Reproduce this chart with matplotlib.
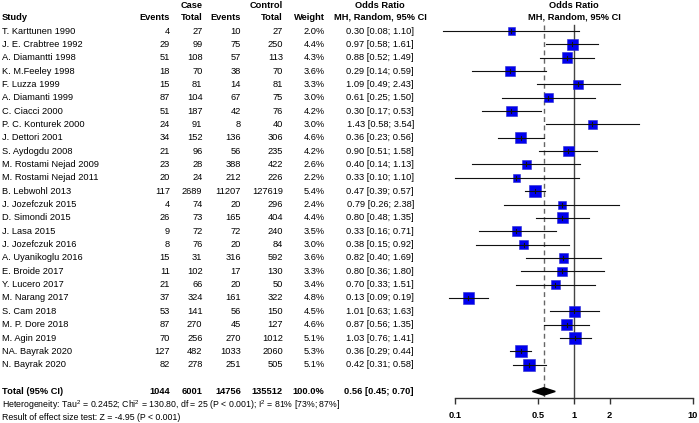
import matplotlib
matplotlib.use("Agg")
import matplotlib.pyplot as plt
import numpy as np

studies = ["T. Karttunen 1990", "J. E. Crabtree 1992", "A. Diamantti 1998", "K. M.Feeley 1998",
           "F. Luzza 1999", "A. Diamanti 1999", "C. Ciacci 2000", "P. C. Konturek 2000",
           "J. Dettori 2001", "S. Aydogdu 2008", "M. Rostami Nejad 2009", "M. Rostami Nejad 2011",
           "B. Lebwohl 2013", "J. Jozefczuk 2015", "D. Simondi 2015", "J. Lasa 2015",
           "J. Jozefczuk 2016", "A. Uyanikoglu 2016", "E. Broide 2017", "Y. Lucero 2017",
           "M. Narang 2017", "S. Cam 2018", "M. P. Dore 2018", "M. Agin 2019",
           "NA. Bayrak 2020", "N. Bayrak 2020"]
case_events = [4, 29, 51, 18, 15, 87, 51, 24, 34, 21, 23, 20, 117, 4, 26, 9, 8, 15, 11, 21, 37, 53, 87, 70, 127, 82]
case_total = [27, 99, 108, 70, 81, 104, 187, 91, 152, 96, 28, 24, 2689, 74, 73, 72, 76, 31, 102, 66, 324, 141, 270, 256, 482, 278]
ctrl_events = [10, 75, 57, 38, 14, 67, 42, 8, 136, 56, 388, 212, 11207, 20, 165, 72, 20, 316, 17, 20, 161, 56, 45, 270, 1033, 251]
ctrl_total = [27, 250, 113, 70, 81, 75, 76, 40, 306, 235, 422, 226, 127619, 296, 404, 240, 84, 592, 130, 50, 322, 150, 127, 1012, 2060, 505]
weight = [2.0, 4.4, 4.3, 3.6, 3.3, 3.0, 4.2, 3.0, 4.6, 4.2, 2.6, 2.2, 5.4, 2.4, 4.4, 3.5, 3.0, 3.6, 3.3, 3.4, 4.8, 4.5, 4.6, 5.1, 5.3, 5.1]
odds_ratio = [0.30, 0.97, 0.88, 0.29, 1.09, 0.61, 0.30, 1.43, 0.36, 0.90, 0.40, 0.33, 0.47, 0.79, 0.80, 0.33, 0.38, 0.82, 0.80, 0.70, 0.13, 1.01, 0.87, 1.03, 0.36, 0.42]
ci_low = [0.08, 0.58, 0.52, 0.14, 0.49, 0.25, 0.17, 0.58, 0.23, 0.51, 0.14, 0.10, 0.39, 0.26, 0.48, 0.16, 0.15, 0.40, 0.36, 0.33, 0.09, 0.63, 0.56, 0.76, 0.29, 0.31]
ci_high = [1.10, 1.61, 1.49, 0.59, 2.43, 1.50, 0.53, 3.54, 0.56, 1.58, 1.13, 1.10, 0.57, 2.38, 1.35, 0.71, 0.92, 1.69, 1.80, 1.51, 0.19, 1.63, 1.35, 1.41, 0.44, 0.58]

total_case_events = 1044
total_case_total = 6001
total_ctrl_events = 14756
total_ctrl_total = 135512
total_weight = 100.0
pooled_or = 0.56
pooled_low = 0.45
pooled_high = 0.70

heterogeneity = r"Heterogeneity: Tau$^2$ = 0.2452; Chi$^2$ = 130.80, df = 25 (P < 0.001); I$^2$ = 81% [73%; 87%]"
effect_test = "Result of effect size test: Z = -4.95 (P < 0.001)"
xticks = [0.1, 0.5, 1, 2, 10]
xtick_labels = ["0.1", "0.5", "1", "2", "10"]

plt.rcParams['font.family'] = ['Liberation Sans', 'DejaVu Sans']
plt.rcParams['mathtext.fontset'] = 'custom'
plt.rcParams['mathtext.rm'] = 'Liberation Sans'
FS = 6.7
FS_SMALL = 6.3
W, H = 699, 423
fig = plt.figure(figsize=(W / 100, H / 100), dpi=100)
fig.patch.set_facecolor("white")

# table axes (pixel coordinates, y from top)
tab = fig.add_axes([0, 0, 1, 1])
tab.set_xlim(0, W)
tab.set_ylim(H, 0)
tab.axis("off")

y0, dy = 31.0, 13.35
rows_y = [y0 + i * dy for i in range(len(studies))]
total_y = rows_y[-1] + 2 * dy

col_study = 2
col_ce, col_ct, col_oe, col_ot, col_w, col_or = 170, 202.5, 241, 283, 324.5, 414
col_or_center = 380
col_plot_center = 574

hy1, hy2 = 5, 17
bold = dict(fontweight="bold", fontsize=FS, va="center")
tab.text(col_ct, hy1, "Case", ha="right", **bold)
tab.text(col_ot, hy1, "Control", ha="right", **bold)
tab.text(col_or_center, hy1, "Odds Ratio", ha="center", **bold)
tab.text(col_study, hy2, "Study", ha="left", **bold)
tab.text(col_ce, hy2, "Events", ha="right", **bold)
tab.text(col_ct, hy2, "Total", ha="right", **bold)
tab.text(col_oe, hy2, "Events", ha="right", **bold)
tab.text(col_ot, hy2, "Total", ha="right", **bold)
tab.text(col_w, hy2, "Weight", ha="right", **bold)
tab.text(col_or_center, hy2, "MH, Random, 95% CI", ha="center", **bold)
tab.text(col_plot_center, hy1, "Odds Ratio", ha="center", **bold)
tab.text(col_plot_center, hy2, "MH, Random, 95% CI", ha="center", **bold)

norm = dict(fontsize=FS, va="center")
for i, y in enumerate(rows_y):
    tab.text(col_study, y, studies[i], ha="left", **norm)
    tab.text(col_ce, y, str(case_events[i]), ha="right", **norm)
    tab.text(col_ct, y, str(case_total[i]), ha="right", **norm)
    tab.text(col_oe, y, str(ctrl_events[i]), ha="right", **norm)
    tab.text(col_ot, y, str(ctrl_total[i]), ha="right", **norm)
    tab.text(col_w, y, f"{weight[i]:.1f}%", ha="right", **norm)
    tab.text(col_or, y, f"{odds_ratio[i]:.2f} [{ci_low[i]:.2f}; {ci_high[i]:.2f}]", ha="right", **norm)

tab.text(col_study, total_y, "Total (95% CI)", ha="left", **bold)
tab.text(col_ce, total_y, str(total_case_events), ha="right", **bold)
tab.text(col_ct, total_y, str(total_case_total), ha="right", **bold)
tab.text(col_oe, total_y, str(total_ctrl_events), ha="right", **bold)
tab.text(col_ot, total_y, str(total_ctrl_total), ha="right", **bold)
tab.text(col_w, total_y, f"{total_weight:.1f}%", ha="right", **bold)
tab.text(col_or, total_y, f"{pooled_or:.2f} [{pooled_low:.2f}; {pooled_high:.2f}]", ha="right", **bold)

tab.text(col_study, 405.5, heterogeneity, ha="left", fontsize=FS_SMALL, va="center")
tab.text(col_study, 417.5, effect_test, ha="left", fontsize=FS_SMALL, va="center")

# forest axes
x_left, x_right, axis_y = 454.7, 692.7, 398.0
ax = fig.add_axes([x_left / W, (H - axis_y) / H, (x_right - x_left) / W, axis_y / H])
ax.set_xscale("log")
ax.set_xlim(0.1, 10)
ax.set_ylim(axis_y, 0)
ax.patch.set_alpha(0)
for s in ["top", "left", "right"]:
    ax.spines[s].set_visible(False)
ax.spines["bottom"].set_color("#333333")
ax.spines["bottom"].set_linewidth(1.0)
ax.set_yticks([])
ax.set_xticks(xticks)
ax.set_xticklabels(xtick_labels, fontweight="bold", fontsize=FS)
ax.minorticks_off()
ax.tick_params(axis="x", direction="out", length=4.5, width=1.0, color="#333333", pad=5)

top_line = 25
ax.plot([1, 1], [top_line, axis_y], color="#444444", lw=1.0, zorder=1, clip_on=False)
ax.plot([pooled_or, pooled_or], [top_line, axis_y], color="#666666", lw=1.0,
        ls=(0, (3.5, 2.5)), zorder=1, clip_on=False)

k = 5.16  # px per sqrt(weight)
sizes = [(k * np.sqrt(w) * 0.72) ** 2 for w in weight]
ax.scatter(odds_ratio, rows_y, s=sizes, marker="s", color="#0000ee", edgecolors="#2a2ad0",
           linewidths=0.4, zorder=2, clip_on=False)
for i, y in enumerate(rows_y):
    ax.plot([ci_low[i], ci_high[i]], [y, y], color="#111111", lw=0.8, zorder=3, clip_on=False)
    ax.plot([odds_ratio[i], odds_ratio[i]], [y - 2, y + 2], color="#111111", lw=0.8, zorder=3, clip_on=False)

dh = 3.7
ax.fill([pooled_low, pooled_or, pooled_high, pooled_or],
        [total_y, total_y - dh, total_y, total_y + dh], color="black", zorder=3, clip_on=False)

fig.savefig("out.png", dpi=100, facecolor="white")
